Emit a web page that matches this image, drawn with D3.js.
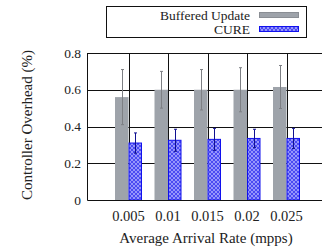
<!DOCTYPE html>
<html>
<head>
<meta charset="utf-8">
<script src="https://cdn.jsdelivr.net/npm/d3@7"></script>
</head>
<body style="margin:0">
<div id="chart"></div>
<script>
// chart data
const rates = ['0.005', '0.01', '0.015', '0.02', '0.025'];
const buffered = [0.56, 0.60, 0.60, 0.60, 0.615];
const bufferedErr = [0.15, 0.10, 0.11, 0.12, 0.117];
const cure = [0.31, 0.325, 0.33, 0.335, 0.335];
const cureErr = [0.055, 0.06, 0.06, 0.05, 0.055];
const yTicks = [0, 0.2, 0.4, 0.6, 0.8];

(function() {
  const W = 322, H = 248;
  const plot = { left: 87, right: 330, top: 53, bottom: 200 };
  const barW = 13.5;
  const serif = "'Liberation Serif'";

  const svg = d3.select('#chart')
    .append('svg')
    .attr('width', W)
    .attr('height', H);

  // crosshatch pattern for CURE bars
  const defs = svg.append('defs');
  const pat = defs.append('pattern')
    .attr('id', 'hatch')
    .attr('patternUnits', 'userSpaceOnUse')
    .attr('width', 4)
    .attr('height', 4);
  pat.append('rect').attr('width', 4).attr('height', 4).attr('fill', '#4a4af2');
  pat.append('path')
    .attr('d', 'M0,0 L4,4 M4,0 L0,4')
    .attr('stroke', '#a8a8ff')
    .attr('stroke-width', 0.8);

  const x = d3.scalePoint()
    .domain(rates)
    .range([128.5, 286.5]);

  const y = d3.scaleLinear()
    .domain([0, 0.8])
    .range([plot.bottom, plot.top]);

  // grid lines
  svg.append('g')
    .selectAll('line')
    .data(yTicks.filter(d => d > 0))
    .enter()
    .append('line')
    .attr('x1', plot.left).attr('x2', plot.right)
    .attr('y1', d => Math.round(y(d)) + 0.5).attr('y2', d => Math.round(y(d)) + 0.5)
    .attr('stroke', '#111').attr('stroke-width', 1);

  svg.append('g')
    .selectAll('line')
    .data(rates)
    .enter()
    .append('line')
    .attr('x1', d => Math.round(x(d)) + 0.5).attr('x2', d => Math.round(x(d)) + 0.5)
    .attr('y1', plot.top).attr('y2', plot.bottom)
    .attr('stroke', '#111').attr('stroke-width', 1);

  // bars
  svg.append('g')
    .selectAll('rect')
    .data(buffered)
    .enter()
    .append('rect')
    .attr('x', (d, i) => x(rates[i]) - barW)
    .attr('y', d => y(d))
    .attr('width', barW)
    .attr('height', d => y(0) - y(d))
    .attr('fill', '#9ea3aa');

  svg.append('g')
    .selectAll('rect')
    .data(cure)
    .enter()
    .append('rect')
    .attr('x', (d, i) => x(rates[i]) + 0.5)
    .attr('y', d => y(d))
    .attr('width', barW - 1)
    .attr('height', d => y(0) - y(d))
    .attr('fill', 'url(#hatch)')
    .attr('stroke', '#1010ee')
    .attr('stroke-width', 1);

  // error bars
  function errorBars(values, errs, offset, color) {
    const g = svg.append('g').attr('stroke', color).attr('stroke-width', 1);
    values.forEach((v, i) => {
      const cx = Math.round(x(rates[i]) + offset) + 0.5;
      const lo = y(v - errs[i]), hi = y(v + errs[i]);
      g.append('line').attr('x1', cx).attr('x2', cx).attr('y1', lo).attr('y2', hi);
      g.append('line').attr('x1', cx - 1.5).attr('x2', cx + 1.5).attr('y1', lo).attr('y2', lo);
      g.append('line').attr('x1', cx - 1.5).attr('x2', cx + 1.5).attr('y1', hi).attr('y2', hi);
    });
  }
  errorBars(buffered, bufferedErr, -barW / 2, '#7d7f84');
  errorBars(cure, cureErr, barW / 2, '#101090');

  // frame: left, top, bottom
  svg.append('path')
    .attr('d', `M${plot.right},${plot.top + 0.5} H${plot.left + 0.5} V${plot.bottom + 0.5} H${plot.right}`)
    .attr('fill', 'none')
    .attr('stroke', '#111')
    .attr('stroke-width', 1);

  // y tick labels
  svg.append('g')
    .selectAll('text')
    .data(yTicks)
    .enter()
    .append('text')
    .attr('font-family', d => serif)
    .attr('x', 81)
    .attr('y', d => y(d) + 4.5)
    .attr('text-anchor', 'end')
    .attr('fill', '#222')
    .style('font-size', '13.5px')
    .text(d => d === 0 ? '0' : d.toFixed(1));

  // x tick labels
  svg.append('g')
    .selectAll('text')
    .data(rates)
    .enter()
    .append('text')
    .attr('font-family', d => serif)
    .attr('x', d => x(d))
    .attr('y', 221)
    .attr('text-anchor', 'middle')
    .attr('fill', '#222')
    .style('font-size', '14.5px')
    .text(d => d);

  // axis titles
  svg.append('text')
    .attr('font-family', serif)
    .attr('x', 206)
    .attr('y', 243)
    .attr('text-anchor', 'middle')
    .attr('fill', '#222')
    .style('font-size', '15px')
    .text('Average Arrival Rate (mpps)');

  svg.append('text')
    .attr('font-family', serif)
    .attr('transform', 'translate(32,125) rotate(-90)')
    .attr('text-anchor', 'middle')
    .attr('fill', '#222')
    .style('font-size', '15px')
    .text('Controller Overhead (%)');

  // legend
  const legend = svg.append('g');
  legend.append('rect')
    .attr('x', 106.5).attr('y', 6.5)
    .attr('width', 200).attr('height', 31)
    .attr('fill', '#fff')
    .attr('stroke', '#111');

  const names = ['Buffered Update', 'CURE'];
  const fills = ['#9ea3aa', 'url(#hatch)'];
  const strokes = ['#8a8e94', '#1010ee'];

  legend.selectAll('text')
    .data(names)
    .enter()
    .append('text')
    .attr('font-family', d => serif)
    .attr('x', 250)
    .attr('y', (d, i) => 19.5 + i * 14.5)
    .attr('text-anchor', 'end')
    .attr('fill', '#222')
    .style('font-size', '13.5px')
    .text(d => d);

  legend.selectAll('rect.swatch')
    .data(names)
    .enter()
    .append('rect')
    .attr('class', 'swatch')
    .attr('x', 259.5)
    .attr('y', (d, i) => 12.5 + i * 14)
    .attr('width', 39).attr('height', 5)
    .attr('fill', (d, i) => fills[i])
    .attr('stroke', (d, i) => strokes[i]);
})();
</script>
</body>
</html>
